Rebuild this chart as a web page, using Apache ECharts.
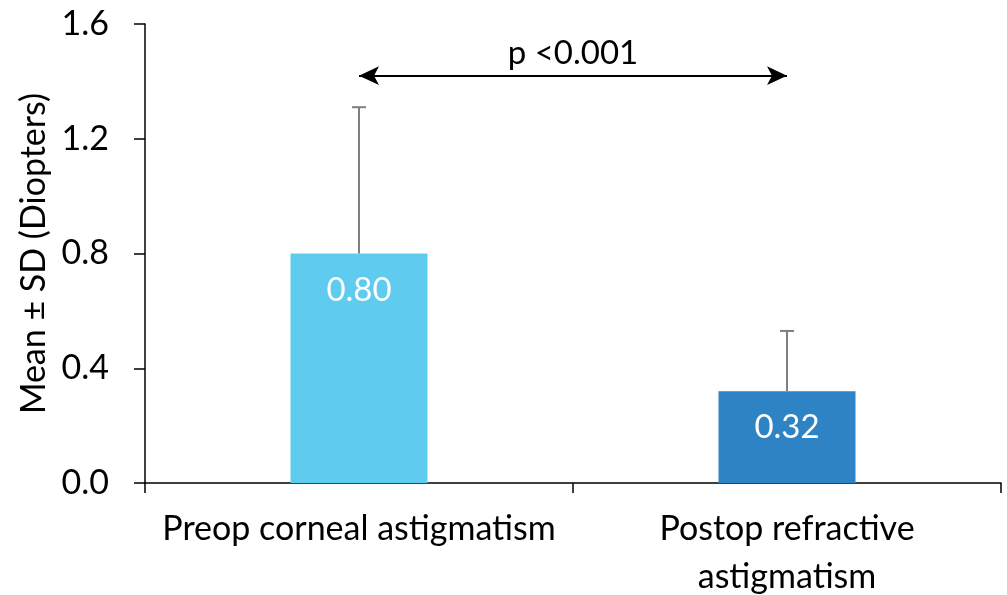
<!DOCTYPE html>
<html><head><meta charset="utf-8">
<script src="https://cdn.jsdelivr.net/npm/echarts@6/dist/echarts.min.js"></script>
<style>html,body{margin:0;padding:0;background:#fff}#c{width:1007px;height:595px}</style>
</head><body><div id="c"></div>
<script>
var categories = ['Preop corneal astigmatism', 'Postop refractive\nastigmatism'];
var means = [0.80, 0.32];
var sds = [0.51, 0.21];
var barColors = ['#5FCBEF', '#2E83C4'];
var yTicks = [0, 0.4, 0.8, 1.2, 1.6];
var pLabel = 'p <0.001';
var arrowLevel = 1.42;

var FONT = 'Lato';
var chart = echarts.init(document.getElementById('c'));
chart.setOption({
  animation: false,
  textStyle: { fontFamily: FONT },
  grid: { left: 145, right: 6, top: 24, bottom: 112, containLabel: false, outerBoundsMode: 'none' },
  xAxis: {
    type: 'category',
    data: categories,
    axisLine: { lineStyle: { color: '#000', width: 1.5 } },
    axisTick: { show: true, length: 10, lineStyle: { color: '#000', width: 1.5 } },
    axisLabel: { color: '#000', fontSize: 34, fontFamily: FONT, margin: 22, lineHeight: 48, interval: 0, hideOverlap: false }
  },
  yAxis: {
    type: 'value',
    min: yTicks[0], max: yTicks[yTicks.length - 1], interval: 0.4,
    name: 'Mean ± SD (Diopters)',
    nameLocation: 'middle',
    nameGap: 92,
    nameTextStyle: { color: '#000', fontSize: 34, fontFamily: FONT },
    axisLine: { show: true, lineStyle: { color: '#000', width: 1.5 } },
    axisTick: { show: true, length: 11, lineStyle: { color: '#000', width: 1.5 } },
    splitLine: { show: false },
    axisLabel: { color: '#000', fontSize: 34, fontFamily: FONT, margin: 36,
      formatter: function (v) { return v.toFixed(1); } }
  },
  series: [
    {
      type: 'bar',
      barWidth: 137,
      data: means.map(function (v, i) { return { value: v, itemStyle: { color: barColors[i] } }; }),
      label: {
        show: true, position: 'insideTop', distance: 20, color: '#fff', fontSize: 33, fontFamily: FONT,
        formatter: function (p) { return p.value.toFixed(2); }
      },
      markLine: {
        silent: true,
        symbol: ['arrow', 'arrow'],
        symbolSize: [14, 20],
        lineStyle: { color: '#000', width: 2, type: 'solid' },
        label: { show: true, position: 'middle', formatter: pLabel, color: '#000', fontSize: 33, fontFamily: FONT, distance: 6 },
        data: [[
          { coord: [categories[0], arrowLevel] },
          { coord: [categories[1], arrowLevel] }
        ]]
      },
      z: 2
    },
    {
      type: 'custom',
      data: means.map(function (v, i) { return [i, v, v + sds[i]]; }),
      renderItem: function (params, api) {
        var base = api.coord([api.value(0), api.value(1)]);
        var top = api.coord([api.value(0), api.value(2)]);
        var cap = 7;
        var st = { stroke: '#7F7F7F', lineWidth: 2 };
        return {
          type: 'group',
          children: [
            { type: 'line', shape: { x1: base[0], y1: base[1], x2: top[0], y2: top[1] }, style: st },
            { type: 'line', shape: { x1: top[0] - cap, y1: top[1], x2: top[0] + cap, y2: top[1] }, style: st }
          ]
        };
      },
      z: 3
    }
  ]
});
</script></body></html>
